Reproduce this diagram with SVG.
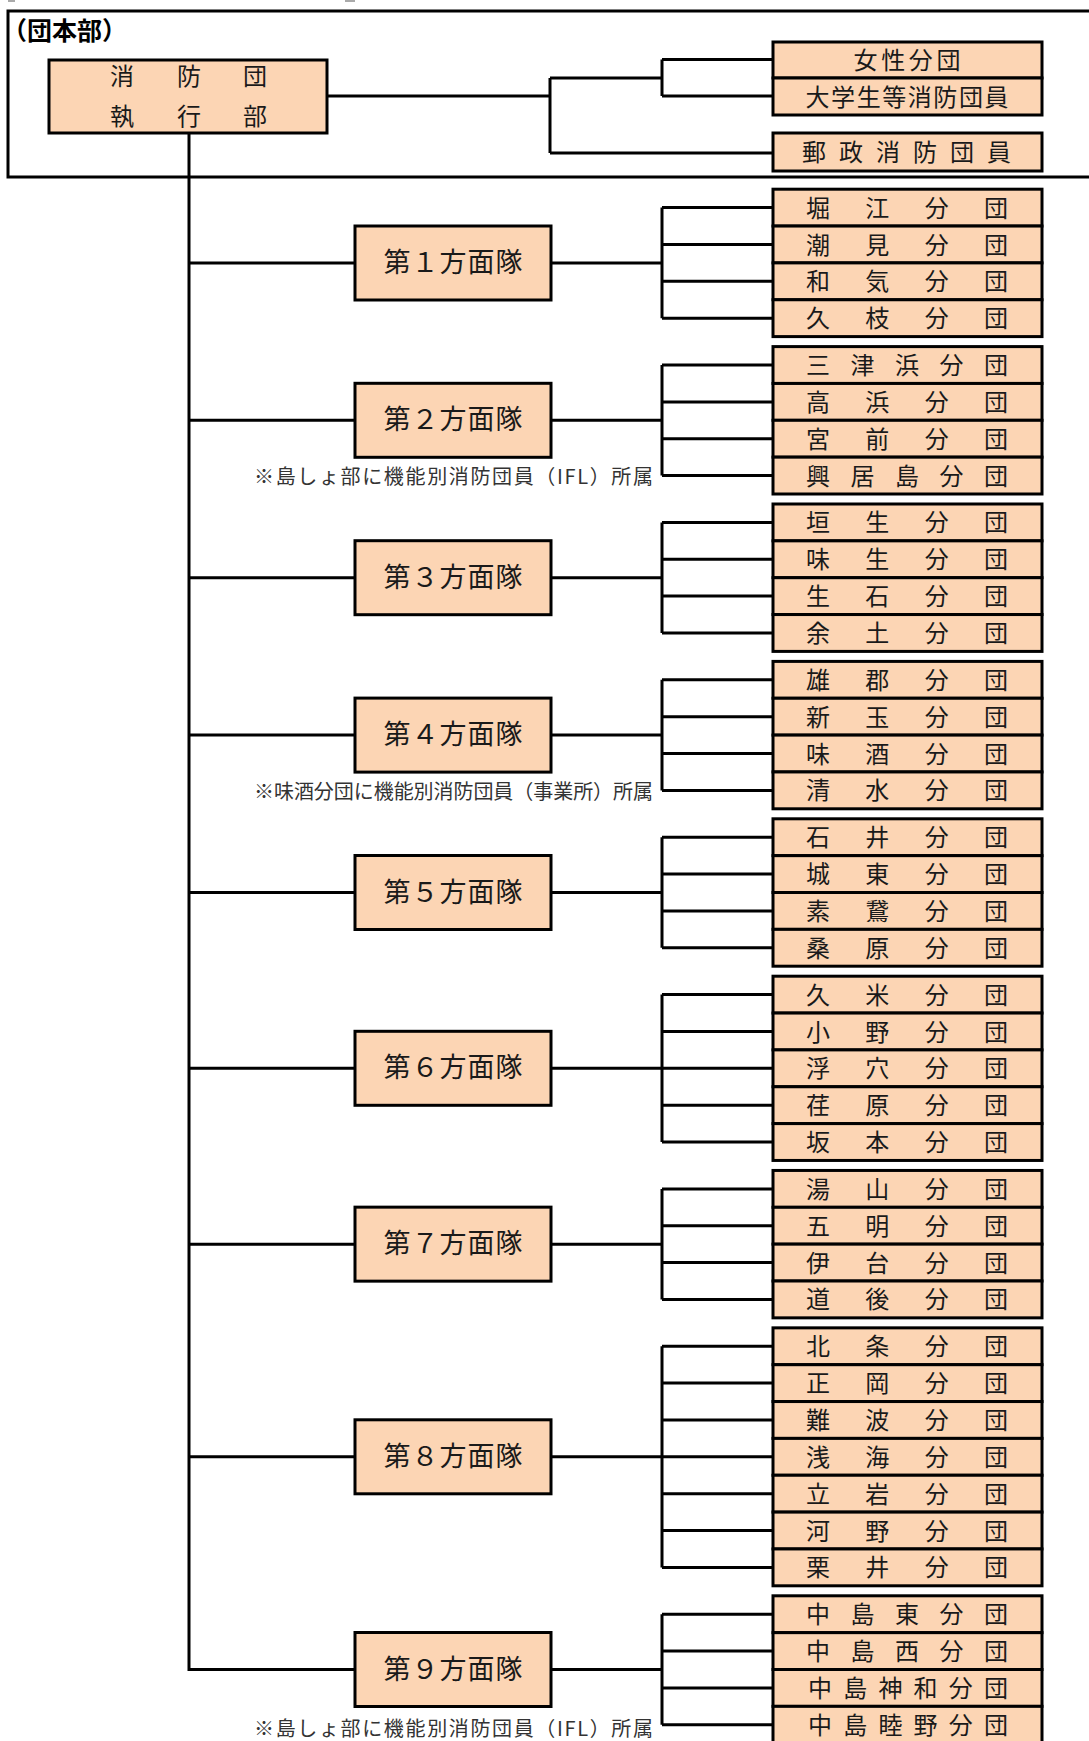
<svg xmlns="http://www.w3.org/2000/svg" width="1089" height="1741" viewBox="0 0 1089 1741">
<defs>
<style>
.bx{fill:#FCD5B4;stroke:#000;stroke-width:3}
.ln{fill:none;stroke:#000;stroke-width:3}
.t{font-family:"Noto Sans CJK JP","Noto Sans CJK SC",sans-serif;fill:#1a1a1a;dominant-baseline:central;text-anchor:middle;transform:translateY(-1.5px)}
.b{font-size:24px}
.h{font-size:27px;transform:translateY(-2.5px)}
.n{font-family:"Noto Sans CJK JP","Noto Sans CJK SC",sans-serif;fill:#333;font-size:20px;dominant-baseline:central;text-anchor:end;transform:translateY(-1px)}
.g{font-family:"Noto Sans CJK JP","Noto Sans CJK SC",sans-serif;fill:#000;font-size:25px;dominant-baseline:central;font-weight:600}
</style>
</defs>
<rect width="1089" height="1741" fill="#fff"/>
<rect x="8" y="0" width="7" height="2" fill="#aaa"/>
<rect x="345" y="0" width="10" height="2" fill="#aaa"/>

<g id="connectors">
<path class="ln" d="M1092 11 H8 V177 H1092"/>
<path class="ln" d="M327 96 H550 M550 78 V153 M550 78 H662 M662 59.5 V96 M662 59.5 H773 M662 96 H773 M550 153 H773"/>
<path class="ln" d="M189 133 V1669.5 H355"/>
<path class="ln" d="M189 263 H355 M189 420.3 H355 M189 577.7 H355 M189 735.1 H355 M189 892.5 H355 M189 1068.3 H355 M189 1244.15 H355 M189 1456.8 H355"/>
<path class="ln" d="M551 263 H662 M662 207.6 V318.2 M662 207.6 H773 M662 244.5 H773 M662 281.3 H773 M662 318.2 H773"/>
<path class="ln" d="M551 420.3 H662 M662 365 V475.6 M662 365 H773 M662 401.9 H773 M662 438.7 H773 M662 475.6 H773"/>
<path class="ln" d="M551 577.7 H662 M662 522.4 V633 M662 522.4 H773 M662 559.3 H773 M662 596.1 H773 M662 633 H773"/>
<path class="ln" d="M551 735.1 H662 M662 679.8 V790.4 M662 679.8 H773 M662 716.7 H773 M662 753.5 H773 M662 790.4 H773"/>
<path class="ln" d="M551 892.5 H662 M662 837.2 V947.8 M662 837.2 H773 M662 874.1 H773 M662 910.9 H773 M662 947.8 H773"/>
<path class="ln" d="M551 1068.3 H662 M662 994.6 V1142 M662 994.6 H773 M662 1031.5 H773 M662 1068.3 H773 M662 1105.2 H773 M662 1142 H773"/>
<path class="ln" d="M551 1244.15 H662 M662 1188.9 V1299.4 M662 1188.9 H773 M662 1225.7 H773 M662 1262.6 H773 M662 1299.4 H773"/>
<path class="ln" d="M551 1456.8 H662 M662 1346.3 V1567.4 M662 1346.3 H773 M662 1383.1 H773 M662 1420 H773 M662 1456.8 H773 M662 1493.7 H773 M662 1530.5 H773 M662 1567.4 H773"/>
<path class="ln" d="M551 1669.5 H662 M662 1614.2 V1724.8 M662 1614.2 H773 M662 1651.1 H773 M662 1687.9 H773 M662 1724.8 H773"/>
</g>

<g id="hq-label"><text class="g" x="2" y="29">（団本部）</text></g>

<g id="exec">
<rect class="bx" x="49" y="60" width="278" height="73"/>
<text class="t b" x="122 189 255" y="76">消防団</text>
<text class="t b" x="122 189 255" y="116">執行部</text>
</g>

<g id="women">
<rect class="bx" x="773" y="42" width="269" height="36"/>
<text class="t b" x="907" y="60" textLength="107" lengthAdjust="spacing">女性分団</text>
</g>
<g id="students">
<rect class="bx" x="773" y="78" width="269" height="37"/>
<text class="t b" x="907" y="96.5" textLength="203" lengthAdjust="spacing">大学生等消防団員</text>
</g>
<g id="postal">
<rect class="bx" x="773" y="133" width="269" height="38"/>
<text class="t b" x="814 851 888 925 962 999" y="152">郵政消防団員</text>
</g>

<g id="area1"><rect class="bx" x="355" y="226" width="196" height="74"/><text class="t h" x="453" y="263" textLength="139" lengthAdjust="spacing">第１方面隊</text></g>
<g id="area2"><rect class="bx" x="355" y="383.3" width="196" height="74"/><text class="t h" x="453" y="420.3" textLength="139" lengthAdjust="spacing">第２方面隊</text></g>
<g id="area3"><rect class="bx" x="355" y="540.7" width="196" height="74"/><text class="t h" x="453" y="577.7" textLength="139" lengthAdjust="spacing">第３方面隊</text></g>
<g id="area4"><rect class="bx" x="355" y="698.1" width="196" height="74"/><text class="t h" x="453" y="735.1" textLength="139" lengthAdjust="spacing">第４方面隊</text></g>
<g id="area5"><rect class="bx" x="355" y="855.5" width="196" height="74"/><text class="t h" x="453" y="892.5" textLength="139" lengthAdjust="spacing">第５方面隊</text></g>
<g id="area6"><rect class="bx" x="355" y="1031.3" width="196" height="74"/><text class="t h" x="453" y="1068.3" textLength="139" lengthAdjust="spacing">第６方面隊</text></g>
<g id="area7"><rect class="bx" x="355" y="1207.15" width="196" height="74"/><text class="t h" x="453" y="1244.15" textLength="139" lengthAdjust="spacing">第７方面隊</text></g>
<g id="area8"><rect class="bx" x="355" y="1419.8" width="196" height="74"/><text class="t h" x="453" y="1456.8" textLength="139" lengthAdjust="spacing">第８方面隊</text></g>
<g id="area9"><rect class="bx" x="355" y="1632.5" width="196" height="74"/><text class="t h" x="453" y="1669.5" textLength="139" lengthAdjust="spacing">第９方面隊</text></g>

<g id="note2"><text class="n" x="653" y="476.5" textLength="399" lengthAdjust="spacing">※島しょ部に機能別消防団員（IFL）所属</text></g>
<g id="note4"><text class="n" x="653" y="791.7" textLength="399" lengthAdjust="spacing">※味酒分団に機能別消防団員（事業所）所属</text></g>
<g id="note9"><text class="n" x="653" y="1728" textLength="399" lengthAdjust="spacing">※島しょ部に機能別消防団員（IFL）所属</text></g>

<g id="g1">
<g id="horie"><rect class="bx" x="773" y="189.2" width="269" height="36.85"/><text class="t b" x="818 877.3 936.7 996" y="207.6">堀江分団</text></g>
<g id="shiomi"><rect class="bx" x="773" y="226.05" width="269" height="36.85"/><text class="t b" x="818 877.3 936.7 996" y="244.5">潮見分団</text></g>
<g id="wake"><rect class="bx" x="773" y="262.9" width="269" height="36.85"/><text class="t b" x="818 877.3 936.7 996" y="281.3">和気分団</text></g>
<g id="hisaeda"><rect class="bx" x="773" y="299.75" width="269" height="36.85"/><text class="t b" x="818 877.3 936.7 996" y="318.2">久枝分団</text></g>
</g>
<g id="g2">
<g id="mitsuhama"><rect class="bx" x="773" y="346.6" width="269" height="36.85"/><text class="t b" x="818 862.5 907 951.5 996" y="365">三津浜分団</text></g>
<g id="takahama"><rect class="bx" x="773" y="383.45" width="269" height="36.85"/><text class="t b" x="818 877.3 936.7 996" y="401.9">高浜分団</text></g>
<g id="miyamae"><rect class="bx" x="773" y="420.3" width="269" height="36.85"/><text class="t b" x="818 877.3 936.7 996" y="438.7">宮前分団</text></g>
<g id="gogoshima"><rect class="bx" x="773" y="457.15" width="269" height="36.85"/><text class="t b" x="818 862.5 907 951.5 996" y="475.6">興居島分団</text></g>
</g>
<g id="g3">
<g id="habu"><rect class="bx" x="773" y="504" width="269" height="36.85"/><text class="t b" x="818 877.3 936.7 996" y="522.4">垣生分団</text></g>
<g id="ajiu"><rect class="bx" x="773" y="540.85" width="269" height="36.85"/><text class="t b" x="818 877.3 936.7 996" y="559.3">味生分団</text></g>
<g id="oishi"><rect class="bx" x="773" y="577.7" width="269" height="36.85"/><text class="t b" x="818 877.3 936.7 996" y="596.1">生石分団</text></g>
<g id="yodo"><rect class="bx" x="773" y="614.55" width="269" height="36.85"/><text class="t b" x="818 877.3 936.7 996" y="633">余土分団</text></g>
</g>
<g id="g4">
<g id="ogori"><rect class="bx" x="773" y="661.4" width="269" height="36.85"/><text class="t b" x="818 877.3 936.7 996" y="679.8">雄郡分団</text></g>
<g id="shintama"><rect class="bx" x="773" y="698.25" width="269" height="36.85"/><text class="t b" x="818 877.3 936.7 996" y="716.7">新玉分団</text></g>
<g id="misake"><rect class="bx" x="773" y="735.1" width="269" height="36.85"/><text class="t b" x="818 877.3 936.7 996" y="753.5">味酒分団</text></g>
<g id="shimizu"><rect class="bx" x="773" y="771.95" width="269" height="36.85"/><text class="t b" x="818 877.3 936.7 996" y="790.4">清水分団</text></g>
</g>
<g id="g5">
<g id="ishii"><rect class="bx" x="773" y="818.8" width="269" height="36.85"/><text class="t b" x="818 877.3 936.7 996" y="837.2">石井分団</text></g>
<g id="joto"><rect class="bx" x="773" y="855.65" width="269" height="36.85"/><text class="t b" x="818 877.3 936.7 996" y="874.1">城東分団</text></g>
<g id="sosa"><rect class="bx" x="773" y="892.5" width="269" height="36.85"/><text class="t b" x="818 877.3 936.7 996" y="910.9">素鵞分団</text></g>
<g id="kuwabara"><rect class="bx" x="773" y="929.35" width="269" height="36.85"/><text class="t b" x="818 877.3 936.7 996" y="947.8">桑原分団</text></g>
</g>
<g id="g6">
<g id="kume"><rect class="bx" x="773" y="976.2" width="269" height="36.85"/><text class="t b" x="818 877.3 936.7 996" y="994.6">久米分団</text></g>
<g id="ono"><rect class="bx" x="773" y="1013.05" width="269" height="36.85"/><text class="t b" x="818 877.3 936.7 996" y="1031.5">小野分団</text></g>
<g id="ukena"><rect class="bx" x="773" y="1049.9" width="269" height="36.85"/><text class="t b" x="818 877.3 936.7 996" y="1068.3">浮穴分団</text></g>
<g id="ebara"><rect class="bx" x="773" y="1086.75" width="269" height="36.85"/><text class="t b" x="818 877.3 936.7 996" y="1105.2">荏原分団</text></g>
<g id="sakamoto"><rect class="bx" x="773" y="1123.6" width="269" height="36.85"/><text class="t b" x="818 877.3 936.7 996" y="1142">坂本分団</text></g>
</g>
<g id="g7">
<g id="yuyama"><rect class="bx" x="773" y="1170.45" width="269" height="36.85"/><text class="t b" x="818 877.3 936.7 996" y="1188.9">湯山分団</text></g>
<g id="gomyo"><rect class="bx" x="773" y="1207.3" width="269" height="36.85"/><text class="t b" x="818 877.3 936.7 996" y="1225.7">五明分団</text></g>
<g id="idai"><rect class="bx" x="773" y="1244.15" width="269" height="36.85"/><text class="t b" x="818 877.3 936.7 996" y="1262.6">伊台分団</text></g>
<g id="dogo"><rect class="bx" x="773" y="1281" width="269" height="36.85"/><text class="t b" x="818 877.3 936.7 996" y="1299.4">道後分団</text></g>
</g>
<g id="g8">
<g id="hojo"><rect class="bx" x="773" y="1327.85" width="269" height="36.85"/><text class="t b" x="818 877.3 936.7 996" y="1346.3">北条分団</text></g>
<g id="masaoka"><rect class="bx" x="773" y="1364.7" width="269" height="36.85"/><text class="t b" x="818 877.3 936.7 996" y="1383.1">正岡分団</text></g>
<g id="nanba"><rect class="bx" x="773" y="1401.55" width="269" height="36.85"/><text class="t b" x="818 877.3 936.7 996" y="1420">難波分団</text></g>
<g id="asanami"><rect class="bx" x="773" y="1438.4" width="269" height="36.85"/><text class="t b" x="818 877.3 936.7 996" y="1456.8">浅海分団</text></g>
<g id="tateiwa"><rect class="bx" x="773" y="1475.25" width="269" height="36.85"/><text class="t b" x="818 877.3 936.7 996" y="1493.7">立岩分団</text></g>
<g id="kono"><rect class="bx" x="773" y="1512.1" width="269" height="36.85"/><text class="t b" x="818 877.3 936.7 996" y="1530.5">河野分団</text></g>
<g id="awai"><rect class="bx" x="773" y="1548.95" width="269" height="36.85"/><text class="t b" x="818 877.3 936.7 996" y="1567.4">栗井分団</text></g>
</g>
<g id="g9">
<g id="nakajima-higashi"><rect class="bx" x="773" y="1595.8" width="269" height="36.85"/><text class="t b" x="818 862.5 907 951.5 996" y="1614.2">中島東分団</text></g>
<g id="nakajima-nishi"><rect class="bx" x="773" y="1632.65" width="269" height="36.85"/><text class="t b" x="818 862.5 907 951.5 996" y="1651.1">中島西分団</text></g>
<g id="nakajima-jinwa"><rect class="bx" x="773" y="1669.5" width="269" height="36.85"/><text class="t b" x="820 855.2 890.4 925.6 960.8 996" y="1687.9">中島神和分団</text></g>
<g id="nakajima-mutsuno"><rect class="bx" x="773" y="1706.35" width="269" height="36.85"/><text class="t b" x="820 855.2 890.4 925.6 960.8 996" y="1724.8">中島睦野分団</text></g>
</g>
</svg>
